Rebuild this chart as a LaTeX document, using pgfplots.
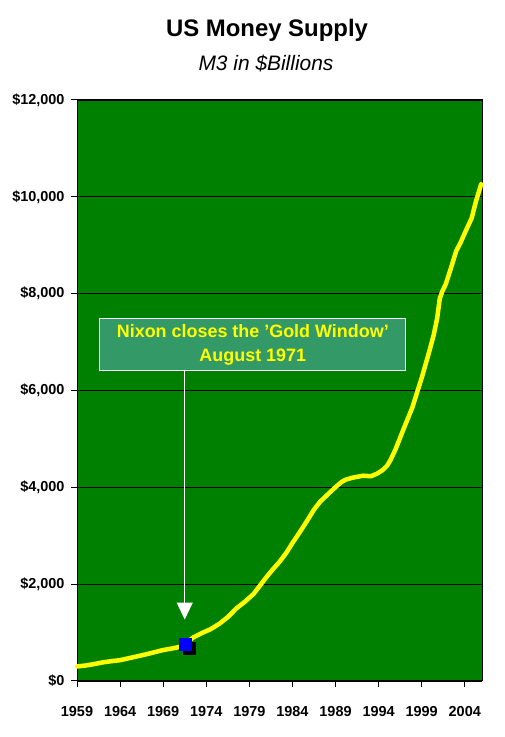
\documentclass[border=0pt]{standalone}
\usepackage{pgfplots}
\pgfplotsset{compat=1.18}
\usepackage{fontspec}
\setmainfont{Liberation Sans}
\usetikzlibrary{arrows.meta}
\definecolor{plotgreen}{RGB}{0,128,0}
\definecolor{boxgreen}{RGB}{51,153,102}
\definecolor{lineyellow}{RGB}{255,255,0}
\begin{document}
\begin{tikzpicture}[x=1bp,y=1bp]
\path[use as bounding box] (0,0) rectangle (505,737);
\node[font=\bfseries\fontsize{24}{28}\selectfont] at (267,707) {US Money Supply};
\node[font=\itshape\fontsize{21}{24}\selectfont] at (266,674) {M3 in \$Billions};
\begin{axis}[
  at={(77bp,56bp)}, anchor=south west,
  scale only axis, width=405bp, height=581bp,
  xmin=1959, xmax=2006, ymin=0, ymax=12000,
  scaled y ticks=false, scaled x ticks=false,
  axis background/.style={fill=plotgreen},
  axis line style={black, line width=1bp},
  xtick={1959,1964,1969,1974,1979,1984,1989,1994,1999,2004},
  xticklabels={1959,1964,1969,1974,1979,1984,1989,1994,1999,2004},
  ytick={0,2000,4000,6000,8000,10000,12000},
  yticklabels={\$0,{\$2,000},{\$4,000},{\$6,000},{\$8,000},{\$10,000},{\$12,000}},
  tick align=outside, tick pos=left,
  major tick length=6bp,
  tick style={black, line width=1bp},
  ymajorgrids, major grid style={black, line width=1.2bp},
  ticklabel style={font=\bfseries\fontsize{14.5}{14.5}\selectfont, text=black},
  xticklabel style={yshift=-16bp},
  yticklabel style={xshift=-3bp},
  clip=false,
]
\addplot[lineyellow, line width=4.5bp, line join=round, line cap=round] coordinates {
(1959.0,300) (1960.0,320) (1961.0,350) (1962.0,385) (1963.0,410) (1964.0,430)
(1965.0,470) (1966.0,510) (1967.0,550) (1968.0,595) (1969.0,640) (1970.0,670)
(1970.8,700) (1971.6,770) (1972.5,900) (1973.5,990) (1974.5,1070) (1975.5,1180)
(1976.5,1320) (1977.5,1500) (1978.5,1640) (1979.5,1800) (1980.4,2010) (1981.0,2150)
(1981.7,2300) (1982.5,2460) (1983.3,2650) (1984.0,2850) (1984.8,3060) (1985.6,3280)
(1986.5,3540) (1987.2,3700) (1987.9,3820) (1988.5,3920) (1989.1,4020) (1989.7,4110)
(1990.2,4160) (1991.0,4200) (1992.2,4240) (1993.1,4230) (1993.8,4280) (1994.5,4360)
(1995.0,4450) (1995.4,4570) (1996.0,4800) (1996.4,4980) (1997.0,5250) (1997.9,5640)
(1998.5,5980) (1999.0,6260) (1999.9,6820) (2000.4,7150) (2000.8,7500) (2001.1,7900)
(2001.4,8050) (2001.8,8200) (2002.4,8530) (2003.0,8880) (2003.5,9050) (2004.1,9290)
(2004.8,9560) (2005.3,9910) (2005.9,10260)
};
\addplot[only marks, mark=square*, mark size=6bp, mark options={fill=black, draw=black, xshift=4bp, yshift=-4bp}] coordinates {(1971.6,760)};
\addplot[only marks, mark=square*, mark size=6bp, mark options={fill=blue, draw=blue}] coordinates {(1971.6,760)};
\node[draw=white, fill=boxgreen, line width=0.8bp, text=lineyellow, align=center,
  minimum width=306bp, minimum height=52bp, inner sep=2bp,
  font=\bfseries\fontsize{18}{24}\selectfont] at (axis cs:1979.4,6943)
  {Nixon closes the 'Gold Window'\\August 1971};
\draw[white, line width=1.2bp, -{Triangle[width=16bp,length=17bp]}] (axis cs:1971.5,6407) -- (axis cs:1971.5,1270);
\end{axis}
\end{tikzpicture}
\end{document}
